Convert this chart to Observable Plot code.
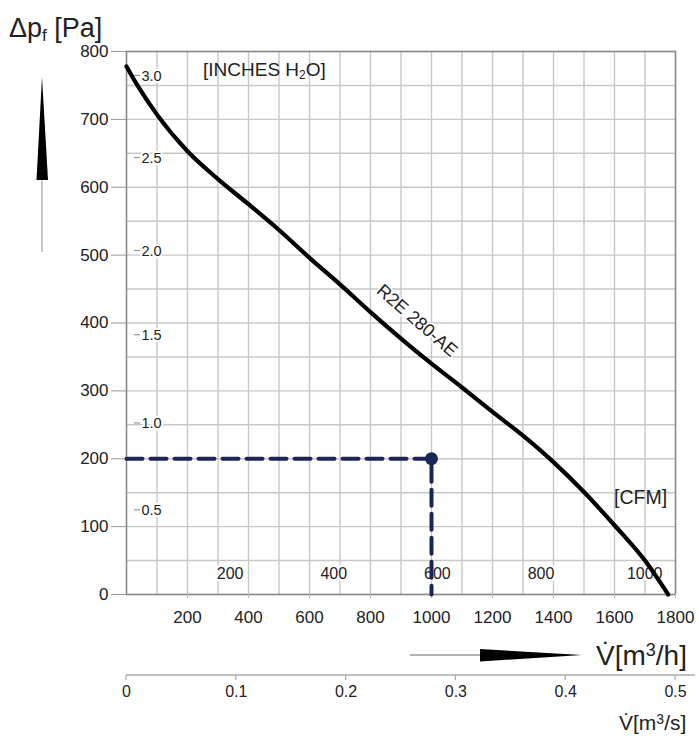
<!DOCTYPE html>
<html>
<head>
<meta charset="utf-8">
<script src="https://cdn.jsdelivr.net/npm/d3@7"></script>
<script src="https://cdn.jsdelivr.net/npm/@observablehq/plot@0.6"></script>
<style>
  html, body { margin: 0; padding: 0; background: #fff; }
  #chart svg { display: block; }
</style>
</head>
<body>
<div id="chart"></div>
<script>
// ---- data ----
const flowM3h    = [0, 36, 100, 200, 300, 400, 500, 600, 700, 800, 900, 1000, 1100, 1200, 1300, 1400, 1500, 1600, 1700, 1776];
const pressurePa = [778, 750, 707, 653, 612, 575, 537, 496, 457, 416, 377, 340, 305, 269, 234, 195, 151, 102, 50, 0];
const curveName = "R2E 280-AE";

const opFlow = 1000;   // operating point m3/h
const opPa = 200;      // operating point Pa

const yTicks = [0, 100, 200, 300, 400, 500, 600, 700, 800];
const xTicks = [200, 400, 600, 800, 1000, 1200, 1400, 1600, 1800];
const m3sTicks = [0, 0.1, 0.2, 0.3, 0.4, 0.5];
const m3sLabels = ["0", "0.1", "0.2", "0.3", "0.4", "0.5"];
const cfmTicks = [200, 400, 600, 800, 1000];
const inchLabels = ["0.5", "1.0", "1.5", "2.0", "2.5", "3.0"];
const inchPa = [124, 252, 382, 506, 643, 764];

const CFM_TO_M3H = 1.699;
const M3S_TO_M3H = 3600;

const curve = flowM3h.map((f, i) => ({flow: f, pa: pressurePa[i]}));
const inchTable = inchLabels.map((t, i) => ({label: t, pa: inchPa[i]}));
const opPath = [{flow: 0, pa: opPa}, {flow: opFlow, pa: opPa}, {flow: opFlow, pa: 0}];
const labelIdx = 10;

const FONT = "'Liberation Sans', Arial, Helvetica, sans-serif";
const INK = "#222";
const NAVY = "#1d2554";

const plot = Plot.plot({
  width: 699,
  height: 740,
  marginLeft: 126,
  marginRight: 24,
  marginTop: 51,
  marginBottom: 146,
  style: {fontFamily: FONT, background: "white", color: INK},
  x: {domain: [0, 1800]},
  y: {domain: [0, 800]},
  marks: [
    Plot.gridX(d3.range(0, 1801, 100), {stroke: "#c8c8c8", strokeOpacity: 1, strokeWidth: 1.4}),
    Plot.gridY(d3.range(0, 801, 50), {stroke: "#c8c8c8", strokeOpacity: 1, strokeWidth: 1.4}),
    Plot.frame({stroke: "#8a8a8a", strokeWidth: 1.5}),
    Plot.axisY(yTicks, {tickSize: 15, tickPadding: 3, fontSize: 17, stroke: "#999", label: null, tickFormat: d => String(d)}),
    Plot.axisX(xTicks, {tickSize: 4, tickPadding: 12, fontSize: 17, stroke: "#bbb", label: null, tickFormat: d => String(d)}),
    // inches H2O secondary labels
    Plot.text(inchTable, {y: "pa", text: "label", frameAnchor: "left", dx: 15, textAnchor: "start",
      fontSize: 14.5, fill: INK, stroke: "white", strokeWidth: 4}),
    // CFM secondary labels
    Plot.text(cfmTicks, {x: d => d * CFM_TO_M3H, text: d => String(d), frameAnchor: "bottom", dy: -16,
      fontSize: 16, fill: INK, stroke: "white", strokeWidth: 5}),
    // m3/s axis labels
    Plot.text(m3sTicks, {x: d => d * M3S_TO_M3H, text: (d, i) => m3sLabels[i], frameAnchor: "bottom", dy: 102,
      fontSize: 16, fill: INK}),
    // operating point
    Plot.line(opPath, {x: "flow", y: "pa", stroke: NAVY, strokeWidth: 4, strokeDasharray: "16,8"}),
    Plot.dot([opPath[1]], {x: "flow", y: "pa", r: 6.5, fill: NAVY}),
    // fan curve
    Plot.line(curve, {x: "flow", y: "pa", curve: "monotone-x", stroke: "#000", strokeWidth: 4.2}),
    Plot.text([curve[labelIdx]], {x: "flow", y: "pa", text: () => curveName, dx: 16, dy: -18, rotate: 41,
      fontSize: 18, fill: INK, stroke: "white", strokeWidth: 3})
  ]
});

const svg = d3.select(plot);
const xs = plot.scale("x");
const ys = plot.scale("y");

const axisLineY = 675;
// m3/s axis line and ticks
svg.append("line").attr("x1", xs.apply(0)).attr("x2", 695).attr("y1", axisLineY).attr("y2", axisLineY)
  .attr("stroke", "#aaa").attr("stroke-width", 1.5);
for (const t of m3sTicks) {
  const px = xs.apply(t * M3S_TO_M3H);
  svg.append("line").attr("x1", px).attr("x2", px)
    .attr("y1", axisLineY).attr("y2", axisLineY + 5).attr("stroke", "#aaa").attr("stroke-width", 1.2);
}
// small tick marks before inch labels
for (const p of inchPa) {
  svg.append("line").attr("x1", 134).attr("x2", 140).attr("y1", ys.apply(p)).attr("y2", ys.apply(p))
    .attr("stroke", "#999").attr("stroke-width", 1.2);
}

// vertical arrow (pressure)
svg.append("line").attr("x1", 42).attr("x2", 42).attr("y1", 180).attr("y2", 252)
  .attr("stroke", "#b5b5b5").attr("stroke-width", 1.5);
svg.append("path").attr("d", "M36.5,180 L48,180 L42,77 Z").attr("fill", "#000");

// horizontal arrow (flow)
svg.append("line").attr("x1", 410).attr("x2", 480).attr("y1", 655).attr("y2", 655)
  .attr("stroke", "#999").attr("stroke-width", 1.5);
svg.append("path").attr("d", "M480,649 L480,661.5 L582,655 Z").attr("fill", "#000");

// labels with sub/superscripts
function label(x, y, size) {
  return svg.append("text").attr("x", x).attr("y", y).attr("font-size", size)
    .attr("fill", INK).attr("text-anchor", "start").attr("font-family", FONT);
}
const t1 = label(9, 37, 27);
t1.append("tspan").text("\u0394p");
t1.append("tspan").attr("font-size", 17).attr("dy", 4).text("f");
t1.append("tspan").attr("dy", -4).text(" [Pa]");

const t2 = label(203, 76, 19);
t2.append("tspan").text("[INCHES H");
t2.append("tspan").attr("font-size", 12).attr("dy", 3).text("2");
t2.append("tspan").attr("dy", -3).text("O]");

label(614, 504, 19.5).text("[CFM]");

const t3 = label(596, 665, 28);
t3.append("tspan").text("V\u0307[m");
t3.append("tspan").attr("font-size", 18).attr("dy", -9).text("3");
t3.append("tspan").attr("dy", 9).text("/h]");

const t4 = label(619, 730, 21);
t4.append("tspan").text("V\u0307[m");
t4.append("tspan").attr("font-size", 14).attr("dy", -6).text("3");
t4.append("tspan").attr("dy", 6).text("/s]");

document.getElementById("chart").appendChild(plot);
</script>
</body>
</html>
